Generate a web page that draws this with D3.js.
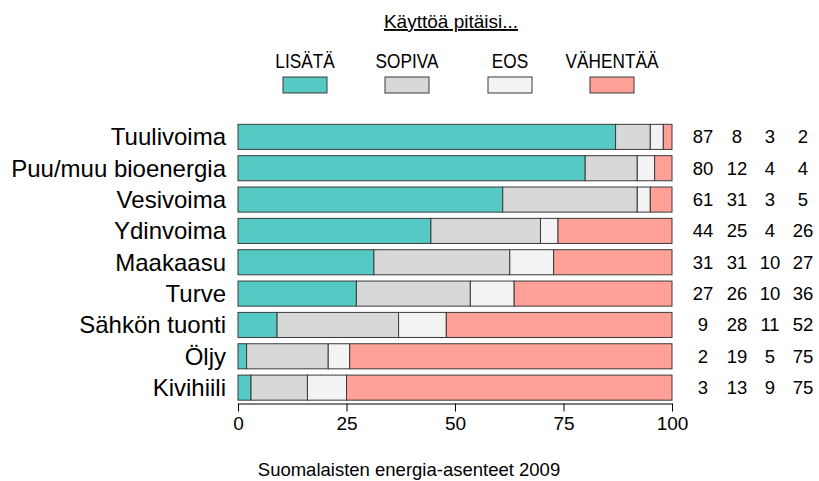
<!DOCTYPE html>
<meta charset="utf-8">
<script src="https://d3js.org/d3.v7.min.js"></script>
<style>
  body { margin: 0; background: #fff; }
  text { font-family: "Liberation Sans", Arial, Helvetica, sans-serif; fill: #000; }
</style>
<body>
<div id="chart"></div>
<script>
// data
var categories = ["Tuulivoima", "Puu/muu bioenergia", "Vesivoima", "Ydinvoima",
                  "Maakaasu", "Turve", "Sähkön tuonti", "Öljy", "Kivihiili"];
var seriesNames = ["LISÄTÄ", "SOPIVA", "EOS", "VÄHENTÄÄ"];
var lisata   = [87, 80, 61, 44, 31, 27,  9,  2,  3];
var sopiva   = [ 8, 12, 31, 25, 31, 26, 28, 19, 13];
var eos      = [ 3,  4,  3,  4, 10, 10, 11,  5,  9];
var vahentaa = [ 2,  4,  5, 26, 27, 36, 52, 75, 75];
var xTicks = [0, 25, 50, 75, 100];

var colors = ["#55cac4", "#d8d8d8", "#f3f3f3", "#ffa196"];

var width = 819, height = 481;
var svg = d3.select("#chart").append("svg")
    .attr("width", width)
    .attr("height", height);

// build rows, normalised to 100
var rows = categories.map(function(c, i) {
  var vals = [lisata[i], sopiva[i], eos[i], vahentaa[i]];
  var total = d3.sum(vals);
  var acc = 0;
  var segs = vals.map(function(v, k) {
    var s = { k: k, x0: acc / total * 100, x1: (acc + v) / total * 100 };
    acc += v;
    return s;
  });
  return { name: c, vals: vals, segs: segs };
});

var x = d3.scaleLinear().domain([0, 100]).range([238, 672]);
var y = d3.scaleBand().domain(categories).range([121.2, 403.3]).paddingInner(0.2).paddingOuter(0.1);

// bars
var g = svg.append("g");
rows.forEach(function(r) {
  g.selectAll(null).data(r.segs).enter().append("rect")
    .attr("x", function(d) { return x(d.x0); })
    .attr("y", y(r.name))
    .attr("width", function(d) { return x(d.x1) - x(d.x0); })
    .attr("height", y.bandwidth())
    .attr("fill", function(d) { return colors[d.k]; })
    .attr("stroke", "#3a3a3a")
    .attr("stroke-width", 1);
});

// category labels
svg.selectAll(".cat").data(categories).enter().append("text")
    .attr("class", "cat")
    .attr("x", 226)
    .attr("y", function(d) { return y(d) + y.bandwidth() / 2 + 8.5; })
    .attr("text-anchor", "end")
    .style("font-size", "24px")
    .text(function(d) { return d; });

// numbers on the right
var numX = [703, 737, 770, 803];
rows.forEach(function(r) {
  svg.selectAll(null).data(r.vals).enter().append("text")
    .attr("x", function(d, k) { return numX[k]; })
    .attr("y", y(r.name) + y.bandwidth() / 2 + 6.5)
    .attr("text-anchor", "middle")
    .style("font-size", "18.5px")
    .text(function(d) { return d; });
});

// x axis
var axis = svg.append("g")
    .attr("transform", "translate(0,403.5)")
    .call(d3.axisBottom(x).tickValues(xTicks).tickSize(8).tickSizeOuter(0).tickPadding(5));
axis.select(".domain").attr("stroke", "#000");
axis.selectAll(".tick line").attr("stroke", "#000");
axis.selectAll("text")
    .style("font-size", "19px")
    .style("font-family", "'Liberation Sans', Arial, sans-serif")
    .attr("fill", "#000");

// legend
svg.append("text")
    .attr("x", 451)
    .attr("y", 28)
    .attr("text-anchor", "middle")
    .style("font-size", "19px")
    .style("text-decoration", "underline")
    .text("Käyttöä pitäisi...");

var legX = [305, 407, 510, 612];
var leg = svg.selectAll(".leg").data(seriesNames).enter().append("g")
    .attr("class", "leg")
    .attr("transform", function(d, i) { return "translate(" + legX[i] + ",0)"; });
leg.append("text")
    .attr("transform", "translate(0,68) scale(0.82,1)")
    .attr("text-anchor", "middle")
    .style("font-size", "21px")
    .text(function(d) { return d; });
leg.append("rect")
    .attr("x", -22)
    .attr("y", 77)
    .attr("width", 44)
    .attr("height", 16)
    .attr("fill", function(d, i) { return colors[i]; })
    .attr("stroke", "#3a3a3a");

// bottom title
svg.append("text")
    .attr("x", 409)
    .attr("y", 476)
    .attr("text-anchor", "middle")
    .style("font-size", "18.5px")
    .text("Suomalaisten energia-asenteet 2009");
</script>
</body>
